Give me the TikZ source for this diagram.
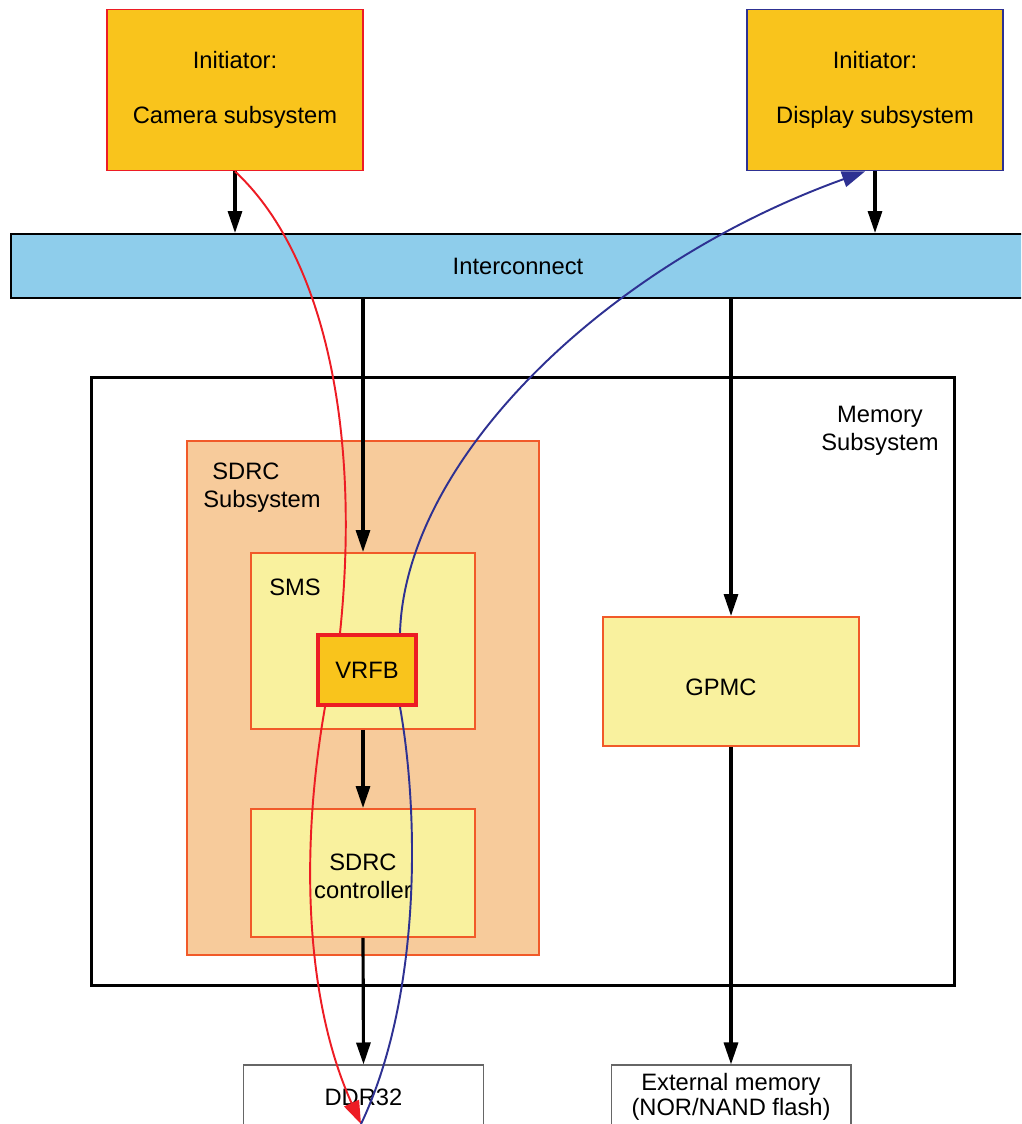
\documentclass[tikz,border=0pt]{standalone}
\usepackage{fontspec}
\setmainfont{Liberation Sans}
\usetikzlibrary{arrows.meta}

\definecolor{initfill}{RGB}{249,196,28}
\definecolor{flowred}{RGB}{237,28,36}
\definecolor{flowblue}{RGB}{46,49,146}
\definecolor{busfill}{RGB}{142,205,235}
\definecolor{subfill}{RGB}{247,203,155}
\definecolor{subline}{RGB}{241,90,41}
\definecolor{smsfill}{RGB}{249,241,158}

\begin{document}
\begin{tikzpicture}[x=0.02cm, y=-0.02cm,
    every node/.style={font=\fontsize{13.5}{16}\selectfont, align=center},
    initbox/.style={
      fill=initfill, line width=1.1pt,
      minimum width=5.12cm, minimum height=3.22cm
    },
    bus/.style={
      draw=black, fill=busfill, line width=1.1pt,
      minimum width=20.28cm, minimum height=1.28cm
    },
    membox/.style={
      draw=black, line width=1.7pt,
      minimum width=17.28cm, minimum height=12.18cm
    },
    subbox/.style={draw=subline, fill=subfill, line width=1.1pt},
    inbox/.style={draw=subline, fill=smsfill, line width=1.1pt},
    vrfbbox/.style={
      draw=flowred, fill=initfill, line width=2.3pt,
      minimum width=1.96cm, minimum height=1.4cm
    },
    extbox/.style={
      draw=black!60, line width=0.6pt,
      minimum width=4.8cm, minimum height=1.28cm
    },
    lbl/.style={inner sep=0pt},
    arr/.style={-{Triangle[length=4.4mm, width=2.8mm]}, line width=1.8pt, black},
    flow/.style={-{Triangle[length=4.6mm, width=3.2mm]}, line width=1.1pt},
  ]
    \useasboundingbox (0,0) rectangle (1021,1124);
    \clip (0,0) rectangle (1021,1124);

    % initiators and interconnect
    \node[initbox, draw=flowred] (cam) at (235,90) {Initiator:\\[15pt]Camera subsystem};
    \node[initbox, draw=flowblue] (disp) at (875,90) {Initiator:\\[15pt]Display subsystem};
    \node[bus] (ic) at (518,266) {Interconnect};

    % memory subsystem
    \node[membox] (mem) at (523,681.5) {};
    \node[lbl] (memlbl) at (880,431) {Memory\\Subsystem};
    \node[subbox, minimum width=7.04cm, minimum height=10.28cm] (sdrc) at (363,698) {};
    \node[lbl, anchor=west, align=left] (sdrclbl) at (203,488) {\hspace{0.18cm}SDRC\\Subsystem};
    \node[inbox, minimum width=4.48cm, minimum height=3.52cm] (sms) at (363,641) {};
    \node[lbl, anchor=west] (smslbl) at (269,587) {SMS};
    \node[vrfbbox] (vrfb) at (367,670) {VRFB};
    \node[inbox, minimum width=4.48cm, minimum height=2.56cm] (ctrl) at (363,873)
      {\raisebox{-7pt}[0pt][0pt]{\begin{tabular}{@{}c@{}}SDRC\\controller\end{tabular}}};
    \node[inbox, minimum width=5.12cm, minimum height=2.58cm] (gpmc) at (731,681.5)
      {\raisebox{-8pt}[0pt][0pt]{GPMC}\hspace{0.4cm}};

    % external memories
    \node[extbox] (ddr) at (363.5,1097) {DDR32};
    \node[extbox] (ext) at (731,1097) {External memory\\[-2pt](NOR/NAND flash)};
    \coordinate (ddrin) at (361,1124);

    \draw[arr] (cam.south) -- (cam.south |- ic.north);
    \draw[arr] (disp.south) -- (disp.south |- ic.north);
    \draw[arr] (sms.north |- ic.south) -- (sms.north);
    \draw[arr] (gpmc.north |- ic.south) -- (gpmc.north);
    \draw[arr] (sms.south) -- (ctrl.north);
    \draw[arr] (ctrl.south) -- (ddr.north);
    \draw[arr] (gpmc.south) -- (ext.north);

    % camera write path through VRFB
    \draw[flowred, line width=1.1pt] (cam.south) .. controls (320,250) and (362,420) .. ([xshift=-0.54cm]vrfb.north);
    \draw[flow, flowred] ([xshift=-0.84cm]vrfb.south) .. controls (300,850) and (305,1000) .. (ddrin);

    % display read path through VRFB
    \draw[flowblue, line width=1.1pt] (ddrin) .. controls (420,1000) and (420,820) .. ([xshift=0.66cm]vrfb.south);
    \draw[flow, flowblue] ([xshift=0.66cm]vrfb.north) .. controls (405,460) and (605,265) .. ([xshift=-0.2cm]disp.south);
\end{tikzpicture}
\end{document}
